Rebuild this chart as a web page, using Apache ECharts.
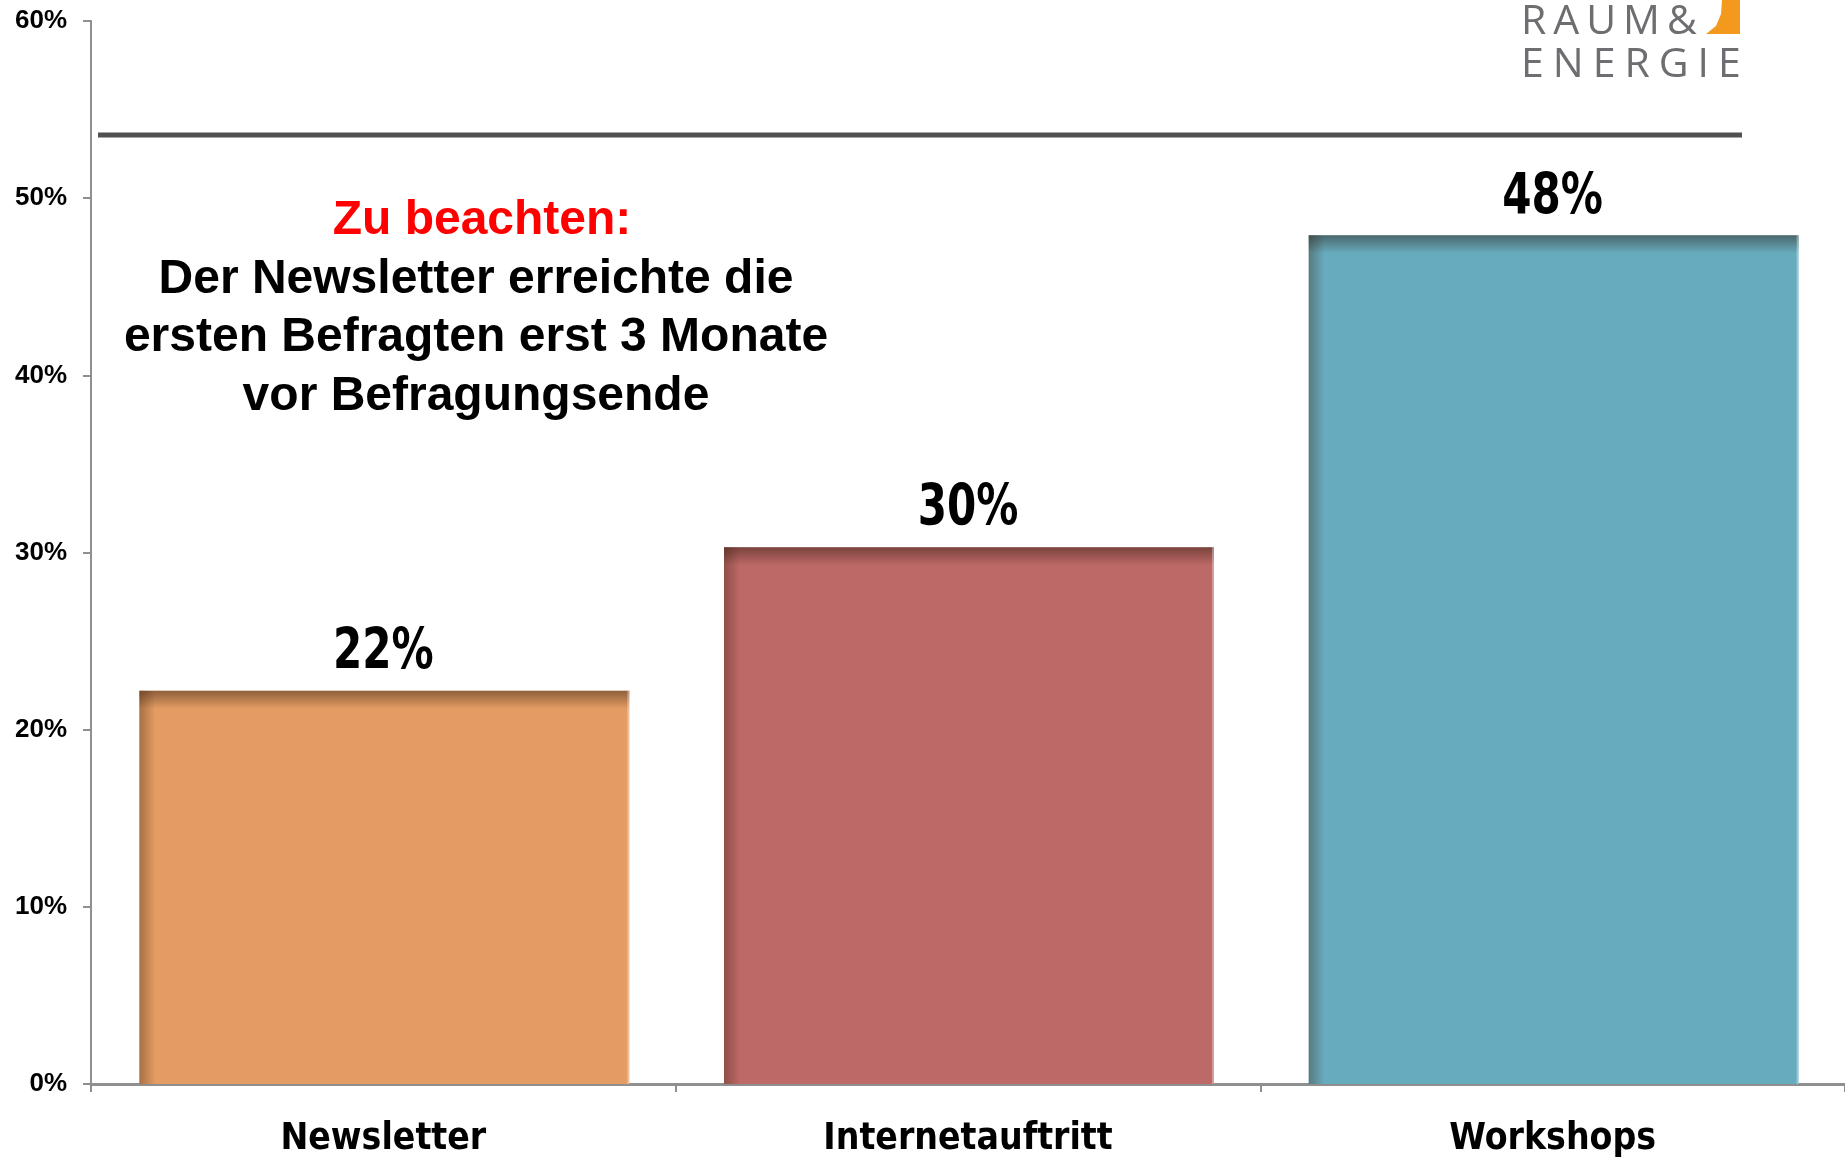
<!DOCTYPE html>
<html>
<head>
<meta charset="utf-8">
<script src="https://cdn.jsdelivr.net/npm/echarts@6/dist/echarts.min.js"></script>
<style>
html,body{margin:0;padding:0;background:#fff;}
#chart{width:1845px;height:1159px;}
</style>
</head>
<body>
<div id="chart"></div>
<script>
const categories = ['Newsletter', 'Internetauftritt', 'Workshops'];
const values = [22.2, 30.3, 47.9];
const barColors = ['#E39C63', '#BC6967', '#67ACBE'];
const yTicks = [0, 10, 20, 30, 40, 50, 60];
const noteTitle = 'Zu beachten:';
const noteLines = ['Der Newsletter erreichte die', 'ersten Befragten erst 3 Monate', 'vor Befragungsende'];
const logoLines = ['RAUM&', 'ENERGIE'];

const chart = echarts.init(document.getElementById('chart'));

// letter-spaced logo text
const measureCtx = document.createElement('canvas').getContext('2d');
function spacedLetters(text, x, y, spacing, font, color) {
  measureCtx.font = font;
  const els = [];
  let cx = x;
  for (const ch of text) {
    els.push({ type: 'text', style: { text: ch, x: cx, y: y, align: 'left', verticalAlign: 'top', fill: color, font: font } });
    cx += measureCtx.measureText(ch).width + spacing;
  }
  return els;
}
const logoFont = '41px "Open Sans", sans-serif';

function lin(x2, y2, c0, c1) {
  return { type: 'linear', x: 0, y: 0, x2: x2, y2: y2, colorStops: [{ offset: 0, color: c0 }, { offset: 1, color: c1 }] };
}

const option = {
  animation: false,
  backgroundColor: '#ffffff',
  grid: { left: 91, right: -7, top: 21, bottom: 75, containLabel: false },
  xAxis: {
    type: 'category',
    data: categories,
    axisLine: { lineStyle: { color: '#8f8f8f', width: 3 } },
    axisTick: { show: true, alignWithLabel: false, length: 8, lineStyle: { color: '#8f8f8f', width: 2 } },
    axisLabel: {
      margin: 37,
      color: '#000',
      fontFamily: '"DejaVu Sans Condensed", "Liberation Sans", sans-serif',
      fontWeight: 'bold',
      fontSize: 37
    }
  },
  yAxis: {
    type: 'value',
    min: 0,
    max: 60,
    interval: 10,
    splitLine: { show: false },
    axisLine: { show: true, lineStyle: { color: '#8f8f8f', width: 2 } },
    axisTick: { show: true, length: 8, lineStyle: { color: '#8f8f8f', width: 2 } },
    axisLabel: {
      margin: 24,
      color: '#000',
      fontFamily: '"Liberation Sans", Arial, sans-serif',
      fontWeight: 'bold',
      fontSize: 26,
      formatter: v => (yTicks.includes(v) ? v + '%' : '')
    }
  },
  series: [{
    type: 'custom',
    data: values.map((v, i) => [i, v]),
    renderItem: function (params, api) {
      const idx = api.value(0);
      const val = api.value(1);
      const top = api.coord([idx, val]);
      const base = api.coord([idx, 0]);
      const band = api.size([1, 0])[0];
      const w = band * 0.838;
      const x0 = top[0] - w / 2 + 1;
      const h = base[1] - top[1];
      const col = barColors[params.dataIndex];
      return {
        type: 'group',
        children: [
          { type: 'rect', shape: { x: x0, y: top[1], width: w, height: h }, style: { fill: col } },
          { type: 'rect', shape: { x: x0, y: top[1], width: 16, height: h },
            style: { fill: lin(1, 0, 'rgba(60,30,10,0.35)', 'rgba(60,30,10,0)') } },
          { type: 'rect', shape: { x: x0, y: top[1], width: w, height: 18 },
            style: { fill: lin(0, 1, 'rgba(40,20,10,0.45)', 'rgba(40,20,10,0)') } },
          { type: 'rect', shape: { x: x0 + w - 2, y: top[1], width: 2, height: h },
            style: { fill: 'rgba(255,255,255,0.35)' } },
          { type: 'text', x: top[0], y: top[1] - 8, scaleX: 0.82, scaleY: 1,
            style: {
              text: Math.round(val) + '%', x: 0, y: 0,
              align: 'center', verticalAlign: 'bottom',
              fill: '#000',
              font: 'bold 57px "DejaVu Sans Condensed", "Liberation Sans", sans-serif'
          } }
        ]
      };
    }
  }],
  graphic: [
    { type: 'line', shape: { x1: 98, y1: 135, x2: 1742, y2: 135 }, style: { stroke: '#505050', lineWidth: 5 } },
    { type: 'text', style: { text: noteTitle, x: 482, y: 221, align: 'center', verticalAlign: 'middle',
        fill: '#ff0000', font: 'bold 48px "Liberation Sans", Arial, sans-serif' } },
    { type: 'text', style: { text: noteLines[0], x: 476, y: 280, align: 'center', verticalAlign: 'middle',
        fill: '#000', font: 'bold 48px "Liberation Sans", Arial, sans-serif' } },
    { type: 'text', style: { text: noteLines[1], x: 476, y: 338, align: 'center', verticalAlign: 'middle',
        fill: '#000', font: 'bold 48px "Liberation Sans", Arial, sans-serif' } },
    { type: 'text', style: { text: noteLines[2], x: 476, y: 397, align: 'center', verticalAlign: 'middle',
        fill: '#000', font: 'bold 48px "Liberation Sans", Arial, sans-serif' } },
    { type: 'group', children: spacedLetters(logoLines[0], 1521, 2, 7, logoFont, '#6d6e71') },
    { type: 'group', children: spacedLetters(logoLines[1], 1521, 45, 9, logoFont, '#6d6e71') },
    { type: 'polygon', shape: { points: [[1722, 0], [1740, 0], [1740, 34], [1706, 34], [1716, 26], [1721, 14]] },
      style: { fill: '#F39A1E' } }
  ]
};
chart.setOption(option);
</script>
</body>
</html>
